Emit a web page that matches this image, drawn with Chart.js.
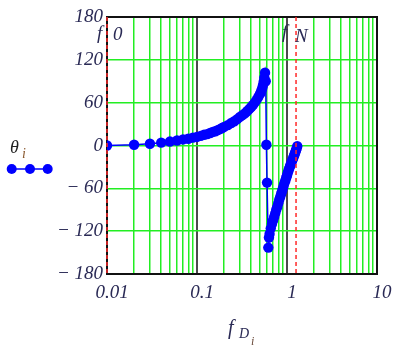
<!DOCTYPE html>
<html>
<head>
<meta charset="utf-8">
<script src="https://cdn.jsdelivr.net/npm/chart.js@4/dist/chart.umd.min.js"></script>
<style>
html,body{margin:0;padding:0;background:#fff;}
canvas{display:block;}
</style>
</head>
<body>
<canvas id="c" width="395" height="348"></canvas>
<script>
// Frequencies f_D_i (x) and phase theta_i in degrees (y)
const fD = [0.01,0.02,0.03,0.04,0.05,0.06,0.07,0.08,0.09,0.10,
  0.11,0.12,0.13,0.14,0.15,0.16,0.17,0.18,0.19,0.20,
  0.22,0.24,0.26,0.28,0.30,0.32,0.34,0.36,0.38,0.40,
  0.42,0.44,0.46,0.48,0.50,0.51,0.52,0.53,0.54,0.55,
  0.56,0.57,0.58,0.59,0.60,0.62,0.63,0.64,0.66,0.68,
  0.70,0.72,0.74,0.76,0.78,0.80,0.82,0.84,0.86,0.88,
  0.90,0.92,0.94,0.96,0.98,1.00,1.02,1.04,1.06,1.08,
  1.10,1.12,1.14,1.16,1.18,1.20,1.22,1.24,1.26,1.28,1.30];
const theta = [0,1,2.5,4,5.5,7,8.5,9.5,11,12,
  13.5,15,16,17.5,19,20,21.5,23,24.5,26,
  28.5,31.5,34,37,40,42.5,45,48,51,54,
  57,60.5,64,68,72,74,77,80,84,89,
  95,102,90,1,-52,-143,-129,-124,-116,-110,
  -105,-100,-95,-90,-86,-81,-76,-72,-68,-64,
  -60,-56,-52,-49,-45,-42,-38,-35,-32,-29,
  -26.5,-24,-21,-19,-16.5,-14,-11.5,-9,-6.5,-4,-1];
// Marker lines
const f0 = 0.01;
const fN = 1.26;
// Axis ticks
const xDecades = [0.01, 0.1, 1, 10];
const xTickLabels = ['0.01', '0.1', '1', '10'];
const yTicks = [-180, -120, -60, 0, 60, 120, 180];

const TXT = '#2a2a55';
const FONT = '"Liberation Serif", "Times New Roman", serif';

function isDecade(v){ const l = Math.log10(v); return Math.abs(l - Math.round(l)) < 1e-9; }

const gridValues = [];
for (let d = 0; d < xDecades.length - 1; d++) {
  for (let k = 1; k <= 9; k++) gridValues.push(xDecades[d] * k);
}
gridValues.push(xDecades[xDecades.length - 1]);

const overlay = {
  id: 'overlay',
  beforeDatasetsDraw(chart) {
    const {ctx, chartArea: a} = chart;
    ctx.save();
    ctx.strokeStyle = '#111';
    ctx.lineWidth = 2;
    ctx.strokeRect(a.left, a.top, a.right - a.left, a.bottom - a.top);
    ctx.restore();
  },
  afterDatasetsDraw(chart) {
    const {ctx, chartArea: a, scales: {x}} = chart;
    ctx.save();
    ctx.strokeStyle = '#ff2a2a';
    ctx.lineWidth = 1.5;
    ctx.setLineDash([4, 3]);
    [f0, fN].forEach(v => {
      const px = x.getPixelForValue(v);
      ctx.beginPath(); ctx.moveTo(px, a.top); ctx.lineTo(px, a.bottom); ctx.stroke();
    });
    ctx.restore();
  },
  afterDraw(chart) {
    const {ctx, scales: {x}} = chart;
    ctx.save();
    ctx.fillStyle = TXT;
    ctx.textBaseline = 'alphabetic';
    // marker labels
    ctx.font = 'italic 19px ' + FONT;
    const p0 = x.getPixelForValue(f0);
    ctx.fillText('f', p0 - 10, 39);
    ctx.fillText('0', p0 + 6, 40);
    const pN = x.getPixelForValue(fN);
    ctx.fillText('f', pN - 14, 38);
    ctx.fillText('N', pN - 1, 42);
    // x axis title
    ctx.font = 'italic 20px ' + FONT;
    ctx.fillText('f', 228, 334);
    ctx.font = 'italic 14px ' + FONT;
    ctx.fillText('D', 239, 338);
    ctx.font = 'italic 12px ' + FONT;
    ctx.fillStyle = '#6a4a3a';
    ctx.fillText('i', 251, 345);
    // legend
    ctx.fillStyle = '#222';
    ctx.font = 'italic 18px ' + FONT;
    ctx.fillText('\u03B8', 10, 153);
    ctx.fillStyle = '#8a5a30';
    ctx.font = 'italic 14px ' + FONT;
    ctx.fillText('i', 22, 158);
    ctx.strokeStyle = '#0000ff';
    ctx.fillStyle = '#0000ff';
    ctx.lineWidth = 1.5;
    ctx.beginPath(); ctx.moveTo(11.7, 169); ctx.lineTo(47.7, 169); ctx.stroke();
    [11.7, 30, 47.7].forEach(cx => { ctx.beginPath(); ctx.arc(cx, 169, 5, 0, Math.PI * 2); ctx.fill(); });
    ctx.restore();
  }
};

new Chart(document.getElementById('c'), {
  type: 'scatter',
  data: {
    datasets: [{
      data: fD.map((f, i) => ({x: f, y: theta[i]})),
      showLine: true,
      borderColor: '#0000ff',
      backgroundColor: '#0000ff',
      borderWidth: 1.5,
      pointRadius: 5.2,
      pointBorderWidth: 0,
      pointHoverRadius: 5.2
    }]
  },
  options: {
    responsive: false,
    animation: false,
    events: [],
    layout: { padding: { left: 0, right: 18, top: 17, bottom: 0 } },
    plugins: { legend: { display: false }, tooltip: { enabled: false } },
    scales: {
      x: {
        type: 'logarithmic',
        min: 0.01, max: 10,
        afterBuildTicks(scale) { scale.ticks = gridValues.map(v => ({value: v})); },
        afterFit(scale) { scale.height = 74; },
        border: { display: false },
        grid: {
          drawTicks: false,
          color: ctx => {
            const v = ctx.tick ? ctx.tick.value : 0;
            if (Math.abs(v - 0.01) < 1e-12 || Math.abs(v - 10) < 1e-9) return 'rgba(0,0,0,0)';
            return isDecade(v) ? '#4a4a4a' : '#22ee22';
          },
          lineWidth: ctx => (ctx.tick && isDecade(ctx.tick.value)) ? 2 : 1.5
        },
        ticks: {
          autoSkip: false,
          maxRotation: 0,
          padding: 8,
          labelOffset: 5,
          color: TXT,
          font: { family: FONT, size: 19, style: 'italic' },
          callback(value) {
            if (!isDecade(value)) return '';
            const i = xDecades.findIndex(d => Math.abs(d - value) / d < 1e-9);
            return i >= 0 ? xTickLabels[i] : '';
          }
        }
      },
      y: {
        min: -180, max: 180,
        afterBuildTicks(scale) { scale.ticks = yTicks.map(v => ({value: v})); },
        afterFit(scale) { scale.width = 107; },
        border: { display: false },
        grid: {
          drawTicks: false,
          color: ctx => (ctx.tick && Math.abs(ctx.tick.value) === 180) ? 'rgba(0,0,0,0)' : '#22ee22',
          lineWidth: 1.5
        },
        ticks: {
          padding: 4,
          color: TXT,
          font: { family: FONT, size: 19, style: 'italic' },
          callback: v => v < 0 ? '\u2212 ' + Math.abs(v) : String(v)
        }
      }
    }
  },
  plugins: [overlay]
});
</script>
</body>
</html>
